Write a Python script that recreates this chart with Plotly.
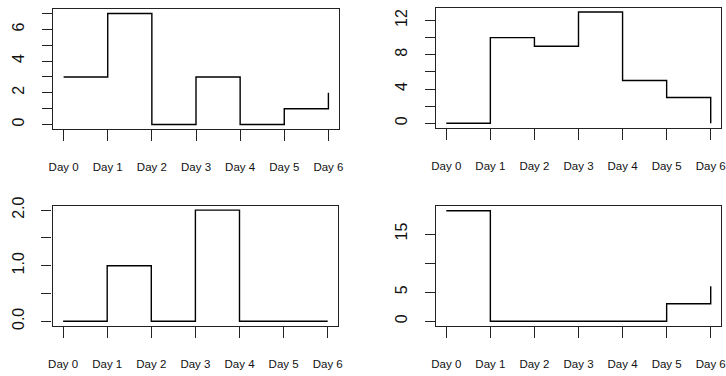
import plotly.graph_objects as go

days = ["Day 0", "Day 1", "Day 2", "Day 3", "Day 4", "Day 5", "Day 6"]
series_a = [3, 7, 0, 3, 0, 1, 2]
series_b = [0, 10, 9, 13, 5, 3, 0]
series_c = [0, 1, 0, 2, 0, 0, 0]
series_d = [19, 0, 0, 0, 0, 3, 6]

yticks_a = [0, 1, 2, 3, 4, 5, 6, 7]
ylabels_a = ["0", "", "2", "", "4", "", "6", ""]
yticks_b = [0, 2, 4, 6, 8, 10, 12]
ylabels_b = ["0", "", "4", "", "8", "", "12"]
yticks_c = [0, 0.5, 1, 1.5, 2]
ylabels_c = ["0.0", "", "1.0", "", "2.0"]
yticks_d = [0, 5, 10, 15]
ylabels_d = ["0", "5", "", "15"]

W, H = 726, 376
panels = [
    dict(s=series_a, tv=yticks_a, tt=ylabels_a, box=(53, 339, 9, 129)),
    dict(s=series_b, tv=yticks_b, tt=ylabels_b, box=(435.7, 721.3, 7.5, 127.7)),
    dict(s=series_c, tv=yticks_c, tt=ylabels_c, box=(52.5, 338.3, 205.7, 325.7)),
    dict(s=series_d, tv=yticks_d, tt=ylabels_d, box=(435.7, 721.3, 206.3, 325.7)),
]

fig = go.Figure()
layout = {}
font = dict(family="Liberation Sans, Arial, sans-serif", color="#111")
for i, p in enumerate(panels):
    k = "" if i == 0 else str(i + 1)
    s = p["s"]
    lo, hi = min(s), max(s)
    pad = (hi - lo) * 0.04
    fig.add_trace(go.Scatter(x=days, y=s, mode="lines", line=dict(shape="hv", color="black", width=1.4),
                             xaxis="x" + k, yaxis="y" + k, showlegend=False, hoverinfo="skip"))
    x0, x1, yt, yb = p["box"]
    layout["xaxis" + k] = dict(
        domain=[x0 / W, x1 / W], anchor="y" + k, type="category", range=[-0.24, 6.24],
        automargin=False,
        showline=True, mirror=True, linecolor="#222", linewidth=1.4, showgrid=False, zeroline=False,
        ticks="outside", ticklen=11, tickwidth=1.2, tickcolor="#222",
        tickfont=dict(size=11.5, **font), ticklabelstandoff=16, fixedrange=True)
    layout["yaxis" + k] = dict(
        domain=[1 - yb / H, 1 - yt / H], anchor="x" + k, range=[lo - pad, hi + pad],
        automargin=False,
        showline=True, mirror=True, linecolor="#222", linewidth=1.4, showgrid=False, zeroline=False,
        tickmode="array", tickvals=p["tv"], ticktext=p["tt"], tickangle=-90,
        ticks="outside", ticklen=10, tickwidth=1.2, tickcolor="#222",
        tickfont=dict(size=16, **font), ticklabelstandoff=11, fixedrange=True)

fig.update_layout(width=W, height=H, margin=dict(l=0, r=0, t=0, b=0, autoexpand=False),
                  template="none",
                  plot_bgcolor="white", paper_bgcolor="white", **layout)
fig.write_html("out.html", config={"displayModeBar": False},
               post_script="document.body.style.margin='0px';document.body.style.overflow='hidden';")
